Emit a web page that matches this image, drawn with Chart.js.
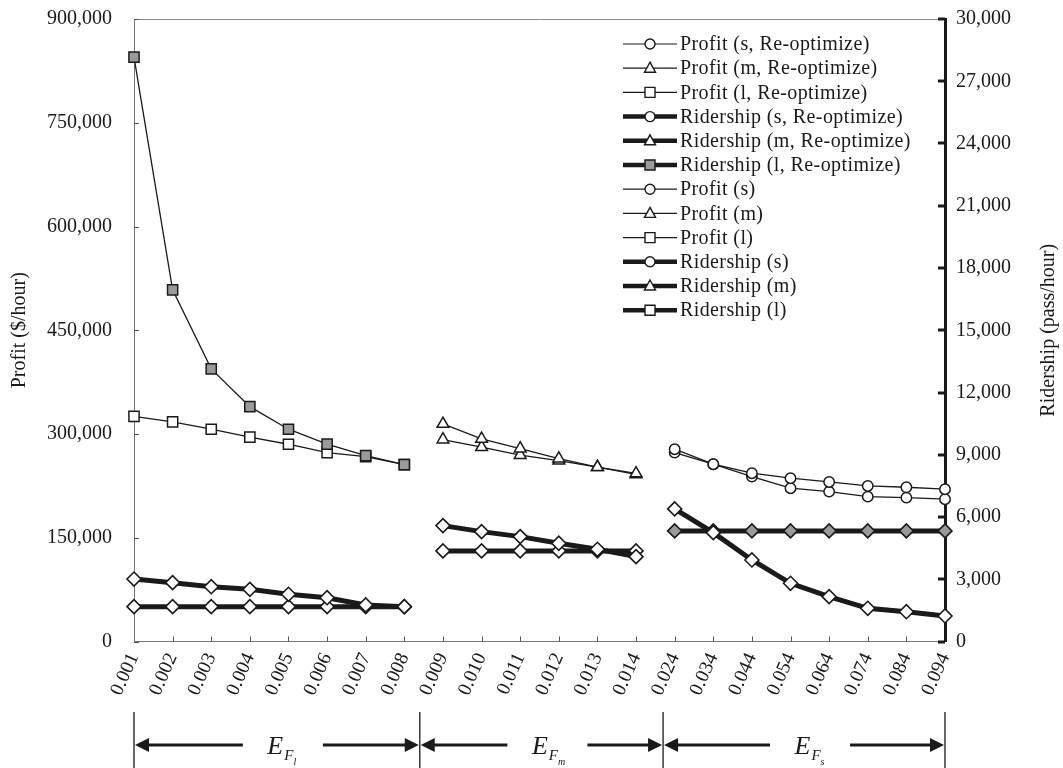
<!DOCTYPE html>
<html>
<head>
<meta charset="utf-8">
<script src="https://cdn.jsdelivr.net/npm/chart.js@4.4.0/dist/chart.umd.min.js"></script>
<style>
  body { margin: 0; background: #fff; }
  #wrap { width: 1063px; height: 768px; }
</style>
</head>
<body>
<div id="wrap"><canvas id="fareChart"></canvas></div>
<script>
// Fare elasticity values, three groups: large (8), medium (6), small (8)
const elasticities = ['0.001', '0.002', '0.003', '0.004', '0.005', '0.006', '0.007', '0.008',
    '0.009', '0.010', '0.011', '0.012', '0.013', '0.014',
    '0.024', '0.034', '0.044', '0.054', '0.064', '0.074', '0.084', '0.094'];
const groupStart = { l: 0, m: 8, s: 14 };

// Profit ($/hour)
const profitSReopt = [278000, 256300, 243300, 236100, 230700, 224900, 223000, 220200];
const profitMReopt = [314500, 293000, 279000, 264500, 252000, 243000];
const profitLReopt = [845000, 508400, 394200, 339600, 306900, 285300, 268800, 255700];
const profitS = [273100, 256300, 238400, 221600, 216700, 209500, 208000, 205700];
const profitM = [292000, 281000, 269500, 261500, 252000, 241500];
const profitL = [325400, 317500, 306900, 295400, 285200, 273100, 267300, 255700];

// Ridership (pass/hour)
const riderSReopt = [6390, 5245, 3930, 2805, 2160, 1600, 1435, 1230];
const riderMReopt = [5585, 5295, 5055, 4735, 4445, 4090];
const riderLReopt = [3010, 2835, 2640, 2515, 2275, 2110, 1760, 1680];
const riderS = [5330, 5330, 5330, 5330, 5330, 5330, 5330, 5330];
const riderM = [4365, 4365, 4365, 4365, 4365, 4365];
const riderL = [1680, 1680, 1680, 1680, 1680, 1680, 1680, 1680];

const profitTicks = [0, 150000, 300000, 450000, 600000, 750000, 900000];
const riderTicks = [0, 3000, 6000, 9000, 12000, 15000, 18000, 21000, 24000, 27000, 30000];

const INK = '#1a1a1a';
const SHADE = '#9a9a9a';
const SERIF = '"Liberation Serif", "Times New Roman", serif';

// put a group's values at its place on the shared category axis
function spread(values, start) {
    const out = new Array(elasticities.length).fill(null);
    values.forEach((v, i) => { out[start + i] = v; });
    return out;
}

function profitSet(label, values, start, shape, fill, legendFill) {
    return {
        label, data: spread(values, start), yAxisID: 'y',
        borderColor: INK, borderWidth: 1.3,
        pointStyle: shape, pointRadius: shape === 'circle' ? 5.2 : (shape === 'triangle' ? 6.8 : 7.2),
        pointBackgroundColor: fill, pointBorderColor: INK, pointBorderWidth: 1.5,
        legendShape: shape, legendFill: legendFill || '#fff', spanGaps: false
    };
}

function riderSet(label, values, start, legendShape, fill, legendFill) {
    return {
        label, data: spread(values, start), yAxisID: 'y1',
        borderColor: INK, borderWidth: 5,
        pointStyle: 'rectRot', pointRadius: 7,
        pointBackgroundColor: fill, pointBorderColor: INK, pointBorderWidth: 1.6,
        legendShape, legendFill: legendFill || '#fff', spanGaps: false
    };
}

function marker(ctx, shape, x, y, fill) {
    ctx.beginPath();
    if (shape === 'circle') {
        ctx.arc(x, y, 5, 0, Math.PI * 2);
    } else if (shape === 'triangle') {
        ctx.moveTo(x, y - 6);
        ctx.lineTo(x + 5.5, y + 4);
        ctx.lineTo(x - 5.5, y + 4);
        ctx.closePath();
    } else {
        ctx.rect(x - 5, y - 5, 10, 10);
    }
    ctx.fillStyle = fill;
    ctx.fill();
    ctx.lineWidth = 1.4;
    ctx.strokeStyle = INK;
    ctx.stroke();
}

// legend inside the plot, line plus marker per series
const legendBox = {
    id: 'legendBox',
    afterDraw(chart) {
        const ctx = chart.ctx;
        const x0 = chart.chartArea.right - 322;
        chart.data.datasets.forEach((ds, i) => {
            const y = 44 + i * 24.2;
            ctx.save();
            ctx.strokeStyle = INK;
            ctx.lineWidth = ds.yAxisID === 'y1' ? 4.5 : 1.2;
            ctx.beginPath();
            ctx.moveTo(x0, y);
            ctx.lineTo(x0 + 54, y);
            ctx.stroke();
            marker(ctx, ds.legendShape, x0 + 27, y, ds.legendFill);
            ctx.fillStyle = INK;
            ctx.font = '20px ' + SERIF;
            ctx.letterSpacing = '0.4px';
            ctx.textBaseline = 'middle';
            ctx.textAlign = 'left';
            ctx.fillText(ds.label, x0 + 57, y + 1);
            ctx.restore();
        });
    }
};

// inward tick marks, top frame, right title and the elasticity-range arrows
const axisDecor = {
    id: 'axisDecor',
    afterDraw(chart) {
        const ctx = chart.ctx;
        const { left, right, top, bottom } = chart.chartArea;
        const x = chart.scales.x, y = chart.scales.y, y1 = chart.scales.y1;
        ctx.save();
        ctx.strokeStyle = '#8a8a8a';
        ctx.lineWidth = 1;
        ctx.beginPath();
        ctx.moveTo(left, top + 0.5);
        ctx.lineTo(right, top + 0.5);
        ctx.stroke();

        ctx.strokeStyle = '#555';
        y.ticks.forEach(t => {
            const py = Math.round(y.getPixelForValue(t.value)) + 0.5;
            ctx.beginPath();
            ctx.moveTo(left, py);
            ctx.lineTo(left + 5, py);
            ctx.stroke();
        });
        for (let i = 1; i < elasticities.length - 1; i++) {
            const px = Math.round(x.getPixelForValue(i)) + 0.5;
            ctx.beginPath();
            ctx.moveTo(px, bottom);
            ctx.lineTo(px, bottom - 5);
            ctx.stroke();
        }
        ctx.strokeStyle = INK;
        ctx.lineWidth = 3;
        y1.ticks.forEach(t => {
            const py = Math.round(y1.getPixelForValue(t.value));
            ctx.beginPath();
            ctx.moveTo(right - 7, py);
            ctx.lineTo(right, py);
            ctx.stroke();
        });

        // right axis title, reading bottom to top
        ctx.fillStyle = INK;
        ctx.font = '20px ' + SERIF;
        ctx.textAlign = 'center';
        ctx.textBaseline = 'middle';
        ctx.translate(1049, (top + bottom) / 2);
        ctx.rotate(-Math.PI / 2);
        ctx.fillText('Ridership (pass/hour)', 0, 0);
        ctx.restore();

        // elasticity ranges under the axis
        const last = elasticities.length - 1;
        const marks = [0, 7.4, 13.7, last].map(v => x.getPixelForDecimal(v / last));
        const subs = ['l', 'm', 's'];
        const ay = 745;
        ctx.save();
        ctx.strokeStyle = INK;
        ctx.fillStyle = INK;
        marks.forEach(m => {
            ctx.lineWidth = 1.3;
            ctx.beginPath();
            ctx.moveTo(m, 712);
            ctx.lineTo(m, 768);
            ctx.stroke();
        });
        for (let g = 0; g < 3; g++) {
            const a = marks[g], b = marks[g + 1];
            const c = (a + b) / 2 + 6;
            ctx.lineWidth = 2.8;
            ctx.beginPath();
            ctx.moveTo(a + 10, ay);
            ctx.lineTo(c - 40, ay);
            ctx.moveTo(c + 40, ay);
            ctx.lineTo(b - 10, ay);
            ctx.stroke();
            ctx.beginPath();
            ctx.moveTo(a + 1, ay);
            ctx.lineTo(a + 15, ay - 7);
            ctx.lineTo(a + 15, ay + 7);
            ctx.closePath();
            ctx.fill();
            ctx.beginPath();
            ctx.moveTo(b - 1, ay);
            ctx.lineTo(b - 15, ay - 7);
            ctx.lineTo(b - 15, ay + 7);
            ctx.closePath();
            ctx.fill();

            ctx.textBaseline = 'alphabetic';
            ctx.textAlign = 'left';
            ctx.font = 'italic 26px ' + SERIF;
            const eW = ctx.measureText('E').width;
            ctx.font = 'italic 15px ' + SERIF;
            const fW = ctx.measureText('F').width;
            const tx = c - (eW + fW + 6) / 2;
            ctx.font = 'italic 26px ' + SERIF;
            ctx.fillText('E', tx, ay + 9);
            ctx.font = 'italic 15px ' + SERIF;
            ctx.fillText('F', tx + eW + 1, ay + 15);
            ctx.font = 'italic 10px ' + SERIF;
            ctx.fillText(subs[g], tx + eW + fW + 1, ay + 20);
        }
        ctx.restore();
    }
};

const datasets = [
    profitSet('Profit (s, Re-optimize)', profitSReopt, groupStart.s, 'circle', '#fff'),
    profitSet('Profit (m, Re-optimize)', profitMReopt, groupStart.m, 'triangle', '#fff'),
    profitSet('Profit (l, Re-optimize)', profitLReopt, groupStart.l, 'rect', SHADE),
    riderSet('Ridership (s, Re-optimize)', riderSReopt, groupStart.s, 'circle', '#fff'),
    riderSet('Ridership (m, Re-optimize)', riderMReopt, groupStart.m, 'triangle', '#fff'),
    riderSet('Ridership (l, Re-optimize)', riderLReopt, groupStart.l, 'rect', '#fff', SHADE),
    profitSet('Profit (s)', profitS, groupStart.s, 'circle', '#fff'),
    profitSet('Profit (m)', profitM, groupStart.m, 'triangle', '#fff'),
    profitSet('Profit (l)', profitL, groupStart.l, 'rect', '#fff'),
    riderSet('Ridership (s)', riderS, groupStart.s, 'circle', SHADE),
    riderSet('Ridership (m)', riderM, groupStart.m, 'triangle', '#fff'),
    riderSet('Ridership (l)', riderL, groupStart.l, 'rect',
        ['#fff', '#fff', '#fff', '#fff', '#fff', '#fff', SHADE, SHADE])
];

// hidden tick marks hold the label gap, so the tick padding stays small
const hiddenTicks = (len) => ({
    display: true, drawOnChartArea: false, drawTicks: true,
    tickLength: len, tickColor: 'rgba(0,0,0,0)'
});

const ctx = document.getElementById('fareChart').getContext('2d');
const fareChart = new Chart(ctx, {
    type: 'line',
    data: { labels: elasticities, datasets },
    options: {
        responsive: true,
        maintainAspectRatio: false,
        animation: false,
        layout: { padding: { top: 19, left: 0, right: 0, bottom: 0 } },
        plugins: { legend: { display: false }, tooltip: { enabled: false } },
        elements: { line: { tension: 0 } },
        scales: {
            x: {
                type: 'category',
                offset: false,
                grid: { display: false, drawTicks: false },
                border: { color: '#777', width: 1 },
                ticks: {
                    autoSkip: false, maxRotation: 66, minRotation: 66, padding: 8,
                    color: INK, font: { family: SERIF, size: 19.5 }
                },
                afterFit(scale) { scale.height = 126.5; }
            },
            y: {
                position: 'left',
                min: 0, max: 900000,
                afterBuildTicks(scale) { scale.ticks = profitTicks.map(v => ({ value: v })); },
                grid: hiddenTicks(20),
                border: { color: '#777', width: 1 },
                ticks: {
                    padding: 2, color: INK, font: { family: SERIF, size: 20 },
                    callback: v => v.toLocaleString('en-US')
                },
                title: {
                    display: true, text: 'Profit ($/hour)', color: INK,
                    font: { family: SERIF, size: 20 }, padding: { top: 8, bottom: 0 }
                },
                afterFit(scale) { scale.width = 134; }
            },
            y1: {
                position: 'right',
                min: 0, max: 30000,
                afterBuildTicks(scale) { scale.ticks = riderTicks.map(v => ({ value: v })); },
                grid: hiddenTicks(9),
                border: { color: INK, width: 3 },
                ticks: {
                    padding: 2, color: INK, font: { family: SERIF, size: 20 },
                    callback: v => v.toLocaleString('en-US')
                },
                afterFit(scale) { scale.width = 118; }
            }
        }
    },
    plugins: [legendBox, axisDecor]
});
</script>
</body>
</html>
